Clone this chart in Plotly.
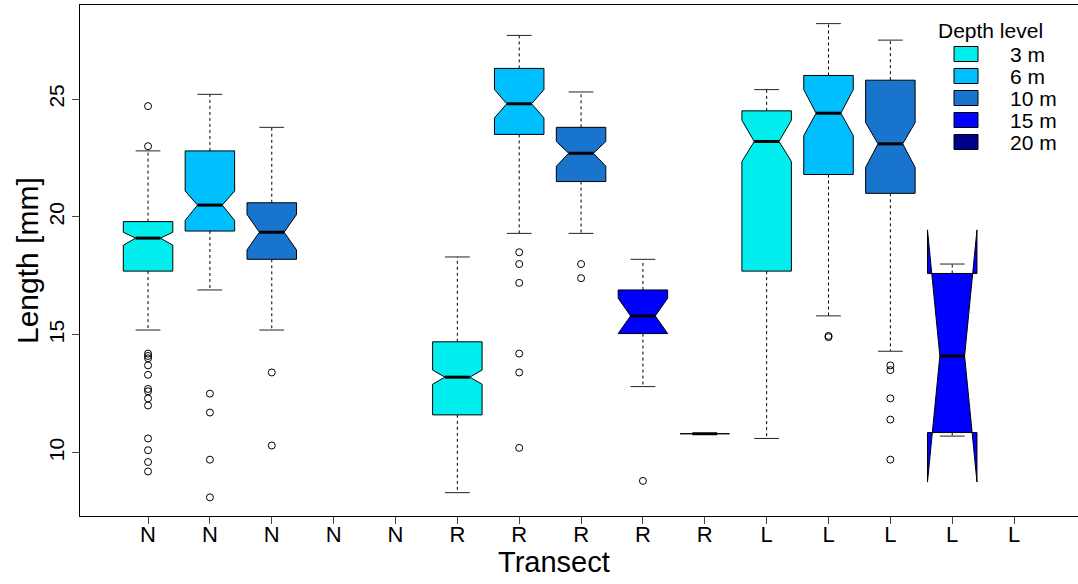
import plotly.graph_objects as go

# ---------------- data ----------------
tick_positions = list(range(1, 16))
tick_labels = ["N"] * 5 + ["R"] * 5 + ["L"] * 5

depth_levels = ["3 m", "6 m", "10 m", "15 m", "20 m"]
depth_colors = ["#00EEEE", "#00BFFF", "#1874CD", "#0000FF", "#00008B"]

box_pos = [1, 2, 3, 6, 7, 8, 9, 10, 11, 12, 13, 14]
box_depth = ["3 m", "6 m", "10 m", "3 m", "6 m", "10 m", "15 m", "20 m", "3 m", "6 m", "10 m", "15 m"]
whisker_lo = [15.2, 16.9, 15.2, 8.3, 19.3, 19.3, 12.8, 10.8, 10.6, 15.8, 14.3, 10.7]
q1 = [17.7, 19.4, 18.2, 11.6, 23.5, 21.5, 15.05, 10.8, 17.7, 21.8, 21.0, 10.85]
median = [19.1, 20.5, 19.35, 13.2, 24.8, 22.7, 15.8, 10.8, 23.2, 24.4, 23.1, 14.1]
q3 = [19.8, 22.8, 20.6, 14.7, 26.3, 23.8, 16.9, 10.8, 24.5, 26.0, 25.8, 17.6]
whisker_hi = [22.8, 25.2, 23.8, 18.3, 27.7, 25.3, 18.2, 10.8, 25.4, 28.2, 27.5, 18.0]
notch_lo = [18.8, 19.85, 18.6, 12.9, 24.2, 22.15, 15.05, 10.8, 22.35, 23.45, 22.1, 8.75]
notch_hi = [19.35, 21.1, 20.1, 13.5, 25.4, 23.2, 16.55, 10.8, 24.1, 25.4, 24.0, 19.45]

outlier_pos = [1] * 15 + [2] * 4 + [3] * 2 + [7] * 6 + [8] * 2 + [9] * 1 + [12] * 2 + [13] * 5
outlier_val = [24.7, 23.0, 14.2, 14.1, 14.0, 13.7, 13.3, 12.7, 12.6, 12.3, 12.0, 10.6, 10.1, 9.6, 9.2,
               12.5, 11.7, 9.7, 8.1,
               13.4, 10.3,
               18.5, 18.0, 17.2, 14.2, 13.4, 10.2,
               18.0, 17.4,
               8.8,
               14.95, 14.9,
               13.7, 13.5, 12.3, 11.4, 9.7]

y_ticks = [10, 15, 20, 25]

# ---------------- layout geometry ----------------
W, H = 1078, 584
ML, MR, MT, MB = 80, 0, 5, 68
PW, PH = W - ML - MR, H - MT - MB
HALF = 0.4      # half box width
NOTCH = 0.5     # notch fraction
CAP = 0.2       # staple half width
FONT = "Liberation Sans, Arial, Helvetica, sans-serif"


def px_x(p):
    return (p - ML) / PW


def px_y(p):
    return (H - MB - p) / PH


color_of = dict(zip(depth_levels, depth_colors))
fig = go.Figure()

# whiskers (dashed)
wx, wy, cx, cy = [], [], [], []
for i, p in enumerate(box_pos):
    wx += [p, p, None, p, p, None]
    wy += [q3[i], whisker_hi[i], None, q1[i], whisker_lo[i], None]
    cx += [p - CAP, p + CAP, None, p - CAP, p + CAP, None]
    cy += [whisker_hi[i], whisker_hi[i], None, whisker_lo[i], whisker_lo[i], None]
fig.add_trace(go.Scatter(x=wx, y=wy, mode="lines", line=dict(color="black", width=1, dash="3px,3px"),
                         hoverinfo="skip", showlegend=False))
fig.add_trace(go.Scatter(x=cx, y=cy, mode="lines", line=dict(color="#222222", width=1),
                         hoverinfo="skip", showlegend=False))

# notched boxes
for i, p in enumerate(box_pos):
    fx = [-1, 1, 1, NOTCH, 1, 1, -1, -1, -NOTCH, -1, -1]
    xs = [p + HALF * f for f in fx]
    ys = [q1[i], q1[i], notch_lo[i], median[i], notch_hi[i], q3[i], q3[i], notch_hi[i], median[i], notch_lo[i], q1[i]]
    fig.add_trace(go.Scatter(x=xs, y=ys, mode="lines", fill="toself",
                             fillcolor=color_of[box_depth[i]],
                             line=dict(color="black", width=1),
                             name=box_depth[i], showlegend=False, hoverinfo="skip"))

# medians
mx, my = [], []
for i, p in enumerate(box_pos):
    mx += [p - HALF * NOTCH, p + HALF * NOTCH, None]
    my += [median[i], median[i], None]
fig.add_trace(go.Scatter(x=mx, y=my, mode="lines", line=dict(color="black", width=3),
                         hoverinfo="skip", showlegend=False))

# outliers
fig.add_trace(go.Scatter(x=outlier_pos, y=outlier_val, mode="markers",
                         marker=dict(symbol="circle-open", size=7, color="black", line=dict(width=1)),
                         showlegend=False))

# manual legend
shapes = []
annotations = []
annotations.append(dict(x=px_x(990), y=px_y(30), xref="paper", yref="paper", text="Depth level",
                        showarrow=False, xanchor="center", yanchor="middle",
                        font=dict(size=21, color="black", family=FONT)))
for k, (lab, col) in enumerate(zip(depth_levels, depth_colors)):
    yc = 54 + 22 * k
    shapes.append(dict(type="rect", xref="paper", yref="paper",
                       x0=px_x(954), x1=px_x(978), y0=px_y(yc - 7.5), y1=px_y(yc + 7.5),
                       fillcolor=col, line=dict(color="black", width=1)))
    annotations.append(dict(x=px_x(1008), y=px_y(yc), xref="paper", yref="paper", text=lab,
                            showarrow=False, xanchor="left", yanchor="middle",
                            font=dict(size=21, color="black", family=FONT)))

# axis titles
annotations.append(dict(x=px_x(554), y=px_y(562), xref="paper", yref="paper", text="Transect",
                        showarrow=False, xanchor="center", yanchor="middle",
                        font=dict(size=29, color="black", family=FONT)))
annotations.append(dict(x=px_x(27), y=px_y(261), xref="paper", yref="paper", text="Length [mm]",
                        showarrow=False, xanchor="center", yanchor="middle", textangle=-90,
                        font=dict(size=30, color="black", family=FONT)))

x_lo = -0.1
x_hi = x_lo + PW / 61.86

fig.update_layout(
    width=W, height=H,
    margin=dict(l=ML, r=MR, t=MT, b=MB, pad=0),
    paper_bgcolor="white", plot_bgcolor="white",
    font=dict(family=FONT, color="black"),
    shapes=shapes, annotations=annotations,
    showlegend=False,
    xaxis=dict(range=[x_lo, x_hi], tickmode="array", tickvals=tick_positions, ticktext=tick_labels,
               ticks="outside", ticklen=7, tickcolor="#444444", showline=True, linecolor="black",
               linewidth=1, mirror=True, showgrid=False, zeroline=False, ticklabelstandoff=-8,
               tickfont=dict(size=22, family=FONT, color="black")),
    yaxis=dict(range=[7.31, 28.99], tickmode="array", tickvals=y_ticks, ticktext=[str(v) for v in y_ticks],
               ticks="outside", ticklen=7, tickcolor="#444444", showline=True, linecolor="black",
               linewidth=1, showgrid=False, zeroline=False, tickangle=-90,
               tickfont=dict(size=21, family=FONT, color="black")),
)

fig.write_html("out.html", config={"displayModeBar": False},
               post_script="document.body.style.margin='0px';document.body.style.padding='0px';")
